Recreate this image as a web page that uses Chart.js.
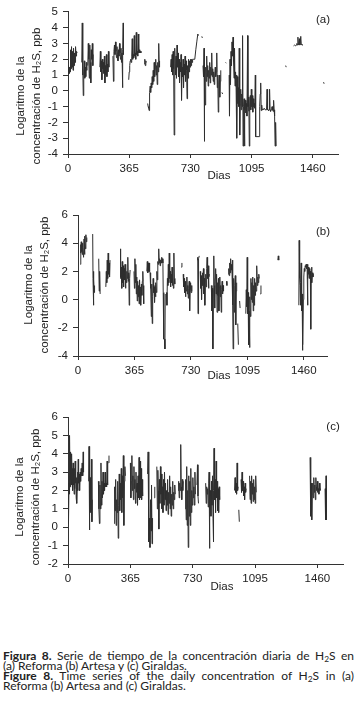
<!DOCTYPE html>
<html>
<head>
<meta charset="utf-8">
<script src="https://cdn.jsdelivr.net/npm/chart.js@4.4.1/dist/chart.umd.min.js"></script>
<style>
  html, body { margin: 0; padding: 0; background: #fff; }
  body { width: 357px; height: 701px; position: relative; overflow: hidden; }
  canvas { position: absolute; left: 0; }
  #pie {
    position: absolute; left: 3px; top: 651px; width: 351px;
    font-family: Lato, "Open Sans", sans-serif; font-size: 12px; line-height: 10px; color: #222;
  }
  #pie .j { text-align: justify; text-align-last: justify; }
  #pie .n { white-space: nowrap; }
  #pie sub { font-size: 70%; vertical-align: -2px; line-height: 0; }
</style>
</head>
<body>
<canvas id="panelA" width="357" height="190" style="top:0px"></canvas>
<canvas id="panelB" width="357" height="190" style="top:200px"></canvas>
<canvas id="panelC" width="357" height="200" style="top:400px"></canvas>
<div id="pie">
  <div class="j"><b>Figura 8.</b> Serie de tiempo de la concentración diaria de H<sub>2</sub>S en</div>
  <div class="n">(a) Reforma (b) Artesa y (c) Giraldas.</div>
  <div class="j"><b>Figure 8.</b> Time series of the daily concentration of H<sub>2</sub>S in (a)</div>
  <div class="n">Reforma (b) Artesa and (c) Giraldas.</div>
</div>
<script>
// Ticks del eje X (dias)
const diasTicks = [0, 365, 730, 1095, 1460];
const tituloY = ['Logaritmo de la', 'concentración de H₂S, ppb'];

// (a) Reforma : [dia, log concentracion], null = hueco
const serieA = [
  [0,1.0],[3,1.6],[6,1.1],[9,1.5],[12,1.2],[15,2.6],[18,1.4],[21,2.8],[24,1.5],[27,2.5],[30,1.3],[33,2.7],[36,1.6],[39,2.4],[42,1.8],[45,2.8],[48,2.2],[51,2.5],[54,2.4],[57,2.4], null,
  [82,1.8],[85,4.3],[87,1.0],[89,1.6],[91,-0.3],[94,1.2],[97,1.9],[100,0.8],[103,1.5],[106,0.9],[109,1.8],[112,1.3], null,
  [118,1.6],[121,3.0],[124,2.0],[127,0.8],[130,2.9],[133,1.8],[136,0.5],[139,2.6],[142,2.0],[145,3.0],[148,1.6],[150,2.3], null,
  [190,1.5],[193,2.5],[196,1.2],[199,1.9],[202,0.7],[205,2.0],[208,1.4],[211,1.8],[214,1.1],[217,2.2],[220,0.5],[223,1.6],[226,1.0],[229,2.3],[232,0.9],[235,1.7],[238,1.2],[241,2.5],[244,1.5], null,
  [268,2.2],[271,0.6],[274,2.5],[277,2.9],[280,2.3],[283,3.1],[286,2.5],[289,2.1],[292,2.8],[295,2.3],[298,1.9],[301,2.6],[304,2.2],[307,3.0],[310,2.4],[313,2.0],[316,2.7],[319,1.8],[322,2.4],[325,0.2],[327,2.6],[329,4.3],[331,2.3], null,
  [362,0.7],[365,1.2],[368,1.6],[371,1.9],[374,2.0],[377,1.8],[380,2.2],[383,3.3],[386,2.0],[389,2.3],[392,2.1],[395,3.5],[398,2.2],[401,2.4],[404,2.0],[407,3.7],[410,2.3],[413,2.5],[416,2.2],[419,3.6],[422,2.4],[425,2.6],[428,2.4],[431,2.5],[434,2.4],[437,2.5], null,
  [455,1.7],[458,2.0],[461,1.6],[464,1.9],[467,1.8], null,
  [475,-0.8],[478,-1.0],[481,-1.1],[484,-1.25],[486,-1.2],
  [487,-0.1],[490,0.3],[493,-0.1],[496,0.5],[499,0.2],[502,0.9],[505,0.4],[508,1.3],[511,0.6],[514,1.8],[517,0.9],[520,1.4],[523,2.0],[526,1.0],[529,1.6],[532,0.4],[535,1.8],[538,1.2],[541,3.0],[544,1.5],[546,1.9], null,
  [612,1.5],[615,2.0],[618,1.2],[621,2.3],[624,1.0],[627,2.5],[630,1.4],[633,-2.8],[635,1.8],[638,2.7],[641,1.0],[644,2.2],[647,0.8],[650,2.9],[653,1.5],[656,2.4],[659,0.9],[662,2.0],[665,0.5],[668,1.8],[671,1.2],[674,2.3],[677,-0.6],[680,1.5],[683,0.9],[686,2.0],[689,0.2],[692,1.7],[695,1.0],[698,2.2],[701,0.6],[704,1.9],[707,1.3],[710,-0.5],[713,1.6],[716,0.8],[719,2.0],[722,1.2],[725,1.9],[728,1.5],[731,2.0],[734,1.6],[737,2.0],[740,1.8],[743,2.0],[746,2.0],[750,2.0],[756,2.0],[762,2.6],[768,3.1],[774,3.6],[778,3.5], null,
  [798,3.45],[801,3.35], null,
  [805,1.6],[808,0.9],[811,2.7],[813,-3.2],[815,1.0],[818,-0.9],[821,1.5],[824,0.6],[827,2.2],[830,0.9],[833,1.6],[836,0.3],[839,1.3],[842,0.8],[845,1.8],[848,0.5],[851,1.5],[854,1.0],[857,2.4],[860,0.9],[863,1.4],[866,0.6],[869,1.2],[872,0.4],[875,1.0],[878,1.5],[881,0.9],[884,1.2],[887,2.4],[890,0.2],[893,1.0],[896,-1.35],[899,0.5],[902,1.0],[905,-0.4],[908,0.6],[911,1.3], null,
  [918,-0.1],[922,-0.2], null,
  [940,1.8],[944,1.75], null,
  [961,1.0],[963,-1.6],[966,2.0],[969,0.4],[972,2.5],[975,1.6],[978,3.1],[981,2.2],[984,3.4],[987,1.9],[990,0.8],[993,2.7],[996,0.3],[999,1.2],[1002,0.5],[1005,1.0],[1007,-3.0],[1010,0.9],
  [1013,-0.8],[1016,0.2],[1019,-1.0],[1021,2.7],[1024,-2.8],[1027,-0.9],[1030,0.1],[1033,-1.2],[1036,-0.2],[1039,-1.0],[1041,3.5],[1044,-3.5],[1047,-1.0],[1050,-0.5],[1052,-3.5],[1055,-1.2],[1058,-0.6],[1061,-1.4],[1064,-0.8],[1067,-1.6],[1071,3.5],[1073,-1.0],[1076,-0.4],[1079,-1.3],[1081,-3.5],[1084,-1.0],[1087,-0.3],[1090,-1.2],[1093,0.1],[1096,-1.0],[1099,-0.3],[1102,-1.35],[1105,-0.5],[1108,-1.0],[1111,-0.8],[1114,-1.1],[1117,1.0],[1119,-2.9],[1141,-2.9],[1143,-1.0],[1146,-0.2],[1149,0.5],[1152,-1.25],[1155,-0.9],[1158,-1.2],[1161,-1.15],[1164,-1.2],[1167,-1.2],[1170,-1.1],[1175,-1.2],[1181,-1.2],[1184,-1.15],[1187,0.1],[1190,-1.2],[1193,-1.2],[1196,-1.25],[1199,-1.2],[1202,0.1],[1205,-1.2],[1208,-1.3],[1211,-1.2],[1214,-1.1],[1217,-1.0],[1220,-1.2],[1223,-1.3],[1226,-0.6],[1229,-1.2],[1232,-1.6],[1235,-3.5],[1238,-2.0],[1241,-3.5], null,
  [1298,1.6],[1301,1.5], null,
  [1345,2.85],[1350,2.9],[1355,2.85],[1360,2.9],[1365,3.0],[1368,2.9],[1371,3.4],[1374,2.95],[1377,2.9],[1380,3.3],[1383,2.9],[1388,3.45],[1391,2.95],[1395,2.9],[1400,2.9], null,
  [1524,0.55],[1527,0.45]
];

// (b) Artesa
const serieB = [
  [15,2.5],[17,3.9],[19,3.3],[21,4.1],[23,3.4],[25,3.8],[27,3.2],[29,4.0],[31,3.7],[36,3.0],[39,4.3],[42,3.2],[45,4.5],[48,3.6],[51,4.6],[54,4.1],[57,4.4], null,
  [95,4.65],[97,1.5],[99,2.0],[101,-0.4],[103,1.4],[105,0.5],[107,1.0], null,
  [134,2.9],[137,0.6],[140,2.0],[143,0.4], null,
  [180,0.9],[183,2.0],[186,1.2],[189,2.8],[192,1.5],[195,3.3],[198,1.8],[201,2.6],[204,1.6],[207,2.8], null,
  [272,1.5],[274,3.6],[277,1.6],[280,2.3],[283,0.8],[286,2.7],[289,1.2],[292,2.4],[295,0.9],[298,2.2],[301,1.4],[304,2.5],[307,0.8],[310,2.3],[313,1.2],[316,2.0],[319,1.5],[322,3.0],[325,1.3],[328,1.9],[331,-0.4],[334,1.5],[337,2.1], null,
  [362,2.0],[365,0.8],[368,2.9],[371,1.2],[374,2.5],[377,0.4],[380,1.6],[383,-0.1],[386,1.3],[389,0.2],[392,1.0],[395,-0.3],[398,1.4],[401,0.0],[404,0.9],[407,-0.4],[410,1.1],[413,0.3],[416,1.3],[419,2.0],[422,1.0],[425,-0.3], null,
  [445,2.0],[448,2.7],[451,1.9],[454,2.6],[457,2.0],[460,2.6],[463,2.0],[466,1.9],[468,0.8],[471,1.2],[474,-1.2],[477,1.1],[480,-1.7],[483,0.2],[486,1.5],[489,0.5],[492,0.9],[495,-0.2],[498,1.0],[501,0.2],[504,1.2],[507,0.5],[510,2.0],[513,1.4],[516,2.7],[519,2.5],[522,3.6],[525,2.6],[528,2.9],[531,2.4],[534,2.8],[537,2.6],[540,3.0],[543,2.6],[546,2.9],[549,2.6],[551,0.5],[553,-2.8],[556,-2.8],[559,-2.8],[562,-3.5],[564,0.4], null,
  [572,0.5],[575,-0.4],[578,1.5],[581,1.0],[584,2.5],[587,1.2],[590,3.3],[593,1.5],[596,2.0],[599,0.9],[602,1.8],[605,1.2],[608,2.3],[611,1.0],[614,1.6],[617,0.8],[620,3.3],[623,1.5],[626,1.1], null,
  [668,2.3],[672,2.6], null,
  [680,1.8],[683,0.9],[686,1.5],[689,0.5],[692,1.3],[695,0.2],[698,1.1],[701,0.6],[704,1.6],[707,0.4],[710,1.0],[713,0.1],[716,0.8],[719,1.3],[722,-0.8],[725,0.7],[728,1.2],[731,0.5],[734,1.0],[737,0.6], null,
  [772,2.8],[774,3.0],[776,-1.0],[778,0.5],[781,2.9],[784,3.1], null,
  [790,2.0],[793,0.8],[796,1.7],[799,0.0],[802,1.4],[805,1.9],[808,1.0],[811,2.2],[814,0.4],[817,1.5],[820,-0.4],[823,1.0],[826,1.8],[829,0.9],[832,2.2],[835,3.0],[838,1.5],[841,2.4],[844,0.8],[847,1.6],[850,1.8], null,
  [862,1.0],[866,-0.8],[869,0.8],[872,-3.5],[875,0.6],[878,3.1],[881,1.0],[884,-0.6],[887,1.5],[890,2.2],[893,0.4],[896,1.8],[899,-0.9],[902,1.2],[905,0.3],[908,1.5],[911,-0.8],[914,0.9],[917,1.6],[920,0.2],[923,1.0],[926,-0.9],[929,0.7],[932,1.3],[935,0.4],[938,1.0],[941,0.6], null,
  [960,1.3],[963,1.0], null,
  [972,1.8],[975,2.2],[978,1.7],[981,2.6],[984,1.9],[987,2.9],[990,2.1],[993,2.5],[996,1.8],[999,2.8],[1001,-0.4],[1003,-3.5],[1005,0.2],[1008,1.5],[1011,-0.9],[1014,1.0],[1017,1.7],[1020,-1.8],[1023,0.6],[1026,1.2], null,
  [1033,-1.7],[1037,-3.2], null,
  [1045,-0.1],[1048,-0.6], null,
  [1085,-1.0],[1088,0.7],[1091,-0.5],[1094,3.0],[1097,-1.0],[1100,0.5],[1103,-3.2],[1106,-0.8],[1109,-3.4],[1112,0.2],[1115,-1.2],[1118,1.5],[1121,0.0],[1124,1.2],[1127,-0.2],[1130,1.6],[1133,-0.8],[1136,1.0],[1139,-0.4],[1142,1.5],[1145,0.3],[1148,1.2],[1151,0.6],[1154,1.5],[1157,2.4],[1160,1.0],[1163,1.6],[1166,1.2],[1169,1.8],[1172,1.5], null,
  [1179,0.4],[1183,1.0], null,
  [1292,2.8],[1295,3.1],[1298,2.8], null,
  [1428,-0.4],[1430,4.2],[1432,4.0],[1434,1.5],[1436,1.0],[1438,-0.4],[1440,1.2],[1443,2.6],[1446,-0.8],[1449,0.4],[1451,-3.6],[1454,-3.2],[1457,0.0],[1460,1.6],[1463,2.2],[1466,2.0],[1469,2.4],[1472,2.3],[1475,2.5],[1478,2.2],[1481,2.5],[1484,-0.4],[1487,1.5],[1490,2.3],[1493,1.8],[1496,2.2],[1499,1.5],[1502,2.0],[1505,-2.1],[1507,1.5],[1510,2.3],[1513,1.2],[1516,1.9],[1519,1.6],[1522,1.8]
];

// (c) Giraldas
const serieC = [
  [0,0.2],[2,2.0],[4,0.3],[6,2.4],[8,1.8],[10,5.0],[12,2.2],[14,4.1],[16,2.6],[18,3.6],[20,2.3],[22,4.0],[24,2.5],[26,3.2],[28,2.0],[30,3.5],[32,2.3],[34,2.8],[36,1.8],[38,3.2],[40,2.1],[42,3.6],[44,2.4],[46,2.9],[48,1.6],[50,2.7],[52,1.3],[54,2.5],[56,3.0],[58,2.0],[60,3.7],[62,2.4],[65,2.9],[68,2.0],[71,3.0],[74,2.5],[77,3.2],[80,2.8],[83,3.5],[86,2.8],[89,4.1],[91,3.0], null,
  [121,2.5],[123,4.4],[125,-0.15],[128,1.0],[131,2.7],[134,0.8],[137,3.7],[140,0.3],[142,1.5], null,
  [178,2.5],[181,1.0],[184,0.2],[187,2.3],[190,1.0],[193,3.5],[196,1.2],[199,2.5],[202,1.6],[205,3.0],[208,1.8],[211,2.4],[214,2.0],[217,3.0],[220,2.2],[223,2.4],[226,2.2],[229,3.6],[232,2.3], null,
  [238,3.5],[240,3.9], null,
  [270,0.2],[273,2.2],[276,0.9],[279,2.6],[282,0.1],[285,1.5],[288,0.8],[291,2.5],[294,-0.6],[297,1.2],[300,2.9],[303,0.9],[306,2.4],[309,1.5],[312,3.2],[315,0.8],[318,2.8],[321,1.6],[324,3.9],[327,0.1],[330,2.5],[333,3.3],[336,2.8], null,
  [365,3.5],[368,1.6],[371,2.5],[374,3.9],[377,2.0],[380,2.8],[383,1.5],[386,3.3],[389,2.1],[392,2.6],[395,1.3],[398,3.0],[401,1.9],[404,2.4],[407,1.2],[410,2.8],[413,1.6],[416,3.8],[419,1.5],[422,3.6],[425,1.6],[428,3.2],[431,1.5],[434,2.6],[437,1.7], null,
  [466,2.9],[469,4.1],[472,0.7],[474,-0.8],[477,0.5],[480,-1.1],[483,1.5],[486,-0.2],[489,2.3],[492,-0.9],[495,0.5], null,
  [505,1.6],[508,2.2], null,
  [520,3.3],[523,1.0],[526,3.1],[529,2.0],[532,-0.1],[535,2.6],[538,1.3],[541,3.3],[544,1.8],[547,2.9],[550,1.0],[553,2.2],[556,0.8],[559,2.6],[562,1.2],[565,3.0],[568,1.5],[571,2.4],[574,0.9],[577,2.0],[580,1.2],[583,2.6],[586,0.7],[589,1.9],[592,1.3],[595,2.8],[598,1.0],[601,2.2],[604,0.6],[607,1.8],[610,1.2],[613,2.5],[616,1.0],[619,1.9],[622,1.5],[625,2.3],[628,1.8], null,
  [645,2.0],[648,2.5],[651,1.6],[654,2.4],[657,2.0],[660,4.5],[663,2.2],[666,1.5],[669,2.6],[672,2.0],[675,2.5], null,
  [686,1.0],[689,2.6],[692,0.4],[695,3.3],[698,0.1],[701,2.0],[704,-1.1],[707,2.8],[710,0.6],[713,2.5],[716,0.1],[719,3.2],[722,0.8],[725,2.0],[728,1.2],[731,2.7],[734,1.6],[737,2.2],[740,1.2],[743,3.0],[746,1.8], null,
  [755,2.3],[758,3.4],[761,1.7],[764,1.3], null,
  [806,2.4],[809,1.3],[812,2.2],[815,1.8],[818,2.1],[821,1.1],[824,2.4],[826,3.0],[828,-1.15],[831,1.0],[834,2.0],[837,0.6],[840,2.5],[843,1.2],[846,2.8],[849,0.5],[851,-0.8],[853,2.0],[855,4.3],[858,1.5],[861,2.6],[864,0.8],[867,3.6],[870,1.6],[873,2.5],[876,0.9],[879,2.1],[882,0.8],[885,2.2],[888,1.5], null,
  [975,2.0],[978,2.7],[981,1.9],[984,2.4],[987,1.8],[990,3.5],[993,2.0],[996,2.2], null,
  [1000,0.95],[1003,0.3], null,
  [1013,2.6],[1016,1.9],[1019,3.0],[1022,2.0],[1025,2.5],[1028,1.7],[1031,2.2],[1034,1.5],[1037,2.4],[1040,1.9],[1043,2.1], null,
  [1063,2.8],[1066,1.5],[1069,2.5],[1072,1.3],[1075,2.8],[1078,1.8],[1081,2.4],[1084,1.4],[1087,2.6],[1090,1.5],[1093,2.2],[1096,1.3],[1099,2.8],[1102,1.9], null,
  [1417,3.8],[1420,2.3],[1422,0.6],[1425,2.4],[1427,0.4],[1430,1.8],[1433,2.4],[1436,1.6],[1439,2.7],[1442,1.9],[1445,2.3],[1448,1.5],[1451,2.7],[1454,2.2],[1457,2.0],[1460,2.5],[1463,1.9],[1466,2.1],[1469,1.8],[1472,2.4],[1475,2.0],[1478,2.1], null,
  [1505,2.1],[1508,0.4],[1511,2.8],[1513,0.4]
];

const fuente = '"Liberation Sans", Arial, sans-serif';

// Rótulos: título Y en dos líneas, "Dias" y la letra del panel
const rotulos = {
  id: 'rotulos',
  afterDraw(chart, args, opts) {
    const ctx = chart.ctx;
    ctx.save();
    ctx.fillStyle = '#222';
    ctx.textAlign = 'center';
    ctx.textBaseline = 'middle';
    ctx.font = '11.5px ' + fuente;
    tituloY.forEach((t, i) => {
      ctx.save();
      ctx.translate(opts.xTitulo[i], opts.yTitulo);
      ctx.rotate(-Math.PI / 2);
      ctx.fillText(t, 0, 0);
      ctx.restore();
    });
    ctx.fillText('Dias', opts.dias[0], opts.dias[1]);
    ctx.fillText(opts.letra, opts.posLetra[0], opts.posLetra[1]);
    ctx.restore();
  }
};

function aPuntos(serie) {
  return serie.map((p, i) => p ? { x: p[0], y: p[1] } : { x: serie[i - 1][0] + 1, y: null });
}

function crearPanel(id, serie, cfg) {
  const canvas = document.getElementById(id);
  return new Chart(canvas, {
    type: 'line',
    data: {
      datasets: [{
        data: aPuntos(serie),
        borderColor: '#2e2e2e',
        borderWidth: 1,
        pointRadius: 0,
        spanGaps: false,
        tension: 0
      }]
    },
    options: {
      responsive: false,
      animation: false,
      devicePixelRatio: 1,
      layout: { padding: { left: 0, top: cfg.top, right: 357 - cfg.right, bottom: 0 } },
      plugins: {
        legend: { display: false },
        tooltip: { enabled: false },
        rotulos: cfg.rotulos
      },
      scales: {
        x: {
          type: 'linear',
          min: 0,
          max: 1610,
          afterBuildTicks: s => { s.ticks = diasTicks.map(v => ({ value: v })); },
          afterFit: s => { s.height = canvas.height - cfg.bottom; },
          ticks: {
            color: '#222', font: { family: fuente, size: 11.5 }, padding: 4,
            maxRotation: 0, autoSkip: false, callback: v => String(v)
          },
          grid: { drawOnChartArea: false, tickLength: 4, color: '#333' },
          border: { color: '#333' }
        },
        y: {
          min: cfg.ymin,
          max: cfg.ymax,
          afterFit: s => { s.width = cfg.left; },
          ticks: {
            stepSize: cfg.paso, autoSkip: false, color: '#222',
            font: { family: fuente, size: 11.5 }, padding: 5, callback: v => String(v)
          },
          grid: { drawOnChartArea: false, tickLength: 5, color: '#333' },
          border: { color: '#333' }
        }
      }
    },
    plugins: [rotulos]
  });
}

crearPanel('panelA', serieA, {
  left: 68, right: 338, top: 10, bottom: 154, ymin: -4, ymax: 5, paso: 1,
  rotulos: { xTitulo: [20.5, 37], yTitulo: 96, dias: [219, 176], letra: '(a)', posLetra: [323, 20] }
});
crearPanel('panelB', serieB, {
  left: 78, right: 327, top: 15, bottom: 156, ymin: -4, ymax: 6, paso: 2,
  rotulos: { xTitulo: [29, 45], yTitulo: 85, dias: [219, 176], letra: '(b)', posLetra: [323, 32] }
});
crearPanel('panelC', serieC, {
  left: 68, right: 343, top: 17, bottom: 164, ymin: -2, ymax: 6, paso: 1,
  rotulos: { xTitulo: [20, 36], yTitulo: 97, dias: [222, 187], letra: '(c)', posLetra: [333, 27] }
});
</script>
</body>
</html>
